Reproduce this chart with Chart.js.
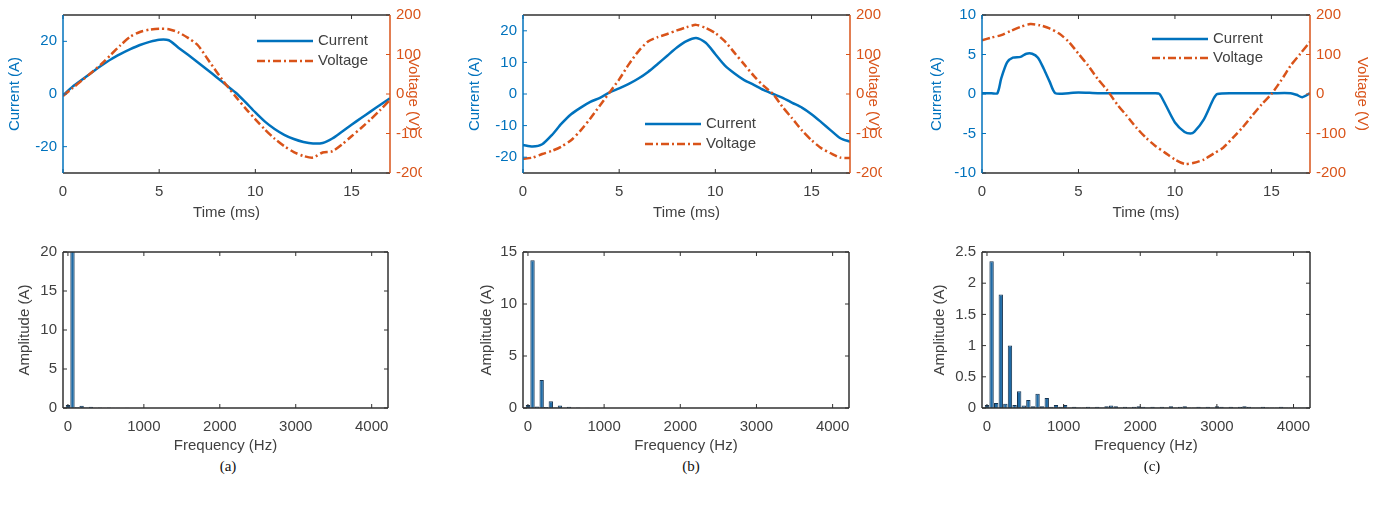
<!DOCTYPE html>
<html>
<head>
<meta charset="utf-8">
<script src="https://cdn.jsdelivr.net/npm/chart.js@4.4.1/dist/chart.umd.min.js"></script>
<style>
body { margin:0; background:#fff; width:1387px; height:506px; position:relative; overflow:hidden; }
.panel { position:absolute; }
.cap { position:absolute; font-family:"Liberation Serif","Times New Roman",serif; font-size:15px; color:#111; transform:translate(-50%,-50%); }
</style>
</head>
<body>
<div class="panel" style="left:0px;top:0px;width:460px;height:225px"><canvas id="timeA"></canvas></div>
<div class="panel" style="left:460px;top:0px;width:460px;height:225px"><canvas id="timeB"></canvas></div>
<div class="panel" style="left:919px;top:0px;width:468px;height:225px"><canvas id="timeC"></canvas></div>
<div class="panel" style="left:0px;top:230px;width:460px;height:225px"><canvas id="fftA"></canvas></div>
<div class="panel" style="left:460px;top:230px;width:460px;height:225px"><canvas id="fftB"></canvas></div>
<div class="panel" style="left:919px;top:230px;width:468px;height:225px"><canvas id="fftC"></canvas></div>
<div class="cap" style="left:228px;top:466px">(a)</div>
<div class="cap" style="left:691px;top:466px">(b)</div>
<div class="cap" style="left:1152px;top:466px">(c)</div>
<script>
// time domain (ms)
const timeMs = [0,0.5,1,1.5,2,2.5,3,3.5,4,4.5,5,5.5,6,6.5,7,7.5,8,8.5,9,9.5,10,10.5,11,11.5,12,12.5,13,13.5,14,14.5,15,15.5,16,16.5,17];

const currentA = [-0.5,2.8,5.5,8.2,10.8,13.2,15.2,17.0,18.6,19.8,20.6,20.4,17.6,14.9,12.1,9.2,6.3,3.3,0.4,-3.2,-7.0,-10.5,-13.3,-15.5,-17.1,-18.2,-18.8,-18.6,-16.9,-14.3,-11.7,-9.1,-6.6,-4.1,-1.6];
const voltageA = [-5,15,35,55,76,100,124,145,157,163,165,164,156,142,124,90,55,22,-8,-37,-64,-90,-113,-132,-147,-157,-161,-148,-145,-128,-107,-86,-64,-40,-15];

const currentB = [-16.1,-16.6,-15.9,-13.0,-9.4,-6.4,-4.3,-2.5,-1.2,0.5,1.8,3.2,4.9,7.0,9.5,12.1,14.7,16.7,17.7,16.2,12.6,9.0,6.5,4.4,2.9,1.3,0.0,-1.2,-2.8,-4.3,-6.4,-8.9,-11.5,-14.0,-15.1];
const voltageB = [-164,-161,-152,-144,-133,-117,-92,-62,-29,4,37,75,108,133,144,152,161,169,175,167,154,133,104,75,46,21,0,-33,-62,-92,-117,-137,-150,-161,-162];

const timeCurrentC = [0,0.5,0.8,1.0,1.3,1.6,2.0,2.3,2.6,2.9,3.2,3.5,3.8,4.5,5,6,7,8,9,9.2,9.5,10,10.5,10.8,11,11.5,12,12.2,13,14,15,16,16.3,16.6,17];
const currentC = [0.1,0.1,0.1,2.0,4.0,4.6,4.7,5.1,5.1,4.6,3.2,1.6,0.1,0.1,0.2,0.1,0.1,0.1,0.1,0.0,-1.3,-3.6,-4.8,-5.0,-4.8,-3.2,-0.6,0.0,0.1,0.1,0.1,0.1,-0.1,-0.4,0.1];
const voltageC = [136,143,149,160,170,177,174,166,153,132,102,72,38,9,-26,-55,-85,-111,-132,-149,-166,-177,-174,-166,-151,-136,-111,-85,-55,-26,0,34,72,102,132];

// spectrum (Hz)
const freqHz = [0,60,120,180,240,300,360,420,480,540,600,660,720,780,840,900,960,1020,1080,1140,1200,1260,1320,1380,1440,1500,1560,1620,1680,1740,1800,1860,1920,1980,2040,2100,2160,2220,2280,2340,2400,2460,2520,2580,2640,2700,2760,2820,2880,2940,3000,3060,3120,3180,3240,3300,3360,3420,3480,3540,3600,3660,3720,3780,3840,3900,3960,4020,4080,4140,4200];
const ampA = [0.4,20.5,0.1,0.3,0.05,0.15,0.03,0.08,0.02,0.05,0.02,0.03,0.01,0.02,0.01];
const ampB = [0.3,14.2,0.15,2.7,0.1,0.65,0.05,0.25,0.03,0.12,0.02,0.06,0.01,0.03,0.01];
const ampC = [0.05,2.35,0.08,1.82,0.07,1.0,0.05,0.27,0.04,0.13,0.03,0.23,0.03,0.16,0.02,0.05,0.02,0.05,0.01,0.02,
  0.01,0.01,0.02,0.01,0.02,0.01,0.03,0.04,0.03,0.01,0.02,0.01,0.02,0.03,0.02,0.01,0.02,0.01,0.02,0.01,
  0.03,0.01,0.02,0.03,0.01,0.01,0.02,0.01,0.02,0.01,0.03,0.02,0.01,0.02,0.01,0.02,0.03,0.02,0.01,0.01,
  0.02,0.01,0.01,0.01,0.02,0.01,0.01,0.01,0.01,0.01,0.01];

// tick labels
const timeTicks = [0,5,10,15];
const freqTicks = [0,1000,2000,3000,4000];
const currentTicksA = [-20,0,20];
const currentTicksB = [-20,-10,0,10,20];
const currentTicksC = [-10,-5,0,5,10];
const voltageTicks = [-200,-100,0,100,200];
const ampTicksA = [0,5,10,15,20];
const ampTicksB = [0,5,10,15];
const ampTicksC = [0,0.5,1,1.5,2,2.5];

const BLUE = '#0072BD';
const ORANGE = '#D95319';
const TEXT = '#404040';
const DARK = '#303030';
const FONT = '"Liberation Sans", Arial, Helvetica, sans-serif';

Chart.defaults.font.family = FONT;
Chart.defaults.font.size = 15;
Chart.defaults.animation = false;
Chart.defaults.devicePixelRatio = 1;

function pts(xs, ys) {
    return ys.map((y, i) => ({x: xs[i], y: y}));
}

function setTicks(list) {
    return scale => { scale.ticks = list.map(v => ({value: v})); };
}

const plain = v => String(v);

// matlab style box with inward ticks
const frame = {
    id: 'frame',
    afterDraw(chart, args, o) {
        const {ctx, chartArea: a, scales} = chart;
        const tl = 4;
        const line = (x1, y1, x2, y2, c) => {
            ctx.strokeStyle = c;
            ctx.beginPath(); ctx.moveTo(x1, y1); ctx.lineTo(x2, y2); ctx.stroke();
        };
        ctx.save();
        ctx.lineWidth = 1;
        scales.x.ticks.forEach(t => {
            const p = scales.x.getPixelForValue(t.value);
            line(p, a.bottom, p, a.bottom - tl, DARK);
            line(p, a.top, p, a.top + tl, DARK);
        });
        scales.y.ticks.forEach(t => {
            const p = scales.y.getPixelForValue(t.value);
            line(a.left, p, a.left + tl, p, o.left);
            if (!scales.y2) line(a.right, p, a.right - tl, p, DARK);
        });
        if (scales.y2) {
            scales.y2.ticks.forEach(t => {
                const p = scales.y2.getPixelForValue(t.value);
                line(a.right, p, a.right - tl, p, o.right);
            });
        }
        ctx.lineWidth = 1.5;
        line(a.left, a.top, a.right, a.top, DARK);
        line(a.left, a.bottom, a.right, a.bottom, DARK);
        line(a.left, a.top, a.left, a.bottom, o.left);
        line(a.right, a.top, a.right, a.bottom, o.right);
        ctx.restore();
    }
};

// legend drawn inside the axes, no box
const inlineLegend = {
    id: 'inlineLegend',
    afterDraw(chart, args, o) {
        if (!o.show) return;
        const {ctx, chartArea: a} = chart;
        ctx.save();
        ctx.font = '15px ' + FONT;
        ctx.textBaseline = 'middle';
        chart.data.datasets.forEach((ds, i) => {
            const x = a.left + o.x;
            const y = a.top + o.y + i * o.row;
            ctx.strokeStyle = ds.borderColor;
            ctx.lineWidth = ds.borderWidth;
            ctx.setLineDash(ds.borderDash || []);
            ctx.beginPath(); ctx.moveTo(x, y); ctx.lineTo(x + o.len, y); ctx.stroke();
            ctx.setLineDash([]);
            ctx.fillStyle = TEXT;
            ctx.fillText(ds.label, x + o.len + 5, y);
        });
        ctx.restore();
    }
};

const noGrid = {display: false, drawTicks: false};
const noBorder = {display: false};

function timeChart(id, p) {
    new Chart(document.getElementById(id), {
        type: 'line',
        data: {
            datasets: [{
                label: 'Current',
                data: pts(p.curT, p.cur),
                yAxisID: 'y',
                borderColor: BLUE,
                borderWidth: 2.5,
                pointRadius: 0,
                tension: 0.25,
                order: 1
            }, {
                label: 'Voltage',
                data: pts(timeMs, p.volt),
                yAxisID: 'y2',
                borderColor: ORANGE,
                borderWidth: 2.5,
                borderDash: [8, 3, 2, 3],
                pointRadius: 0,
                tension: 0.25,
                order: 0
            }]
        },
        options: {
            responsive: true,
            maintainAspectRatio: false,
            events: [],
            layout: {padding: {top: p.top, bottom: 2, left: 0, right: p.padRight}},
            plugins: {
                legend: {display: false},
                tooltip: {enabled: false},
                frame: {left: BLUE, right: ORANGE},
                inlineLegend: Object.assign({show: true, len: 56, row: 20}, p.legend)
            },
            scales: {
                x: {
                    type: 'linear', min: 0, max: 17, offset: false,
                    afterBuildTicks: setTicks(timeTicks),
                    afterFit: s => { s.height = 50; },
                    grid: noGrid, border: noBorder,
                    ticks: {color: TEXT, padding: 10, maxRotation: 0, autoSkip: false, callback: plain},
                    title: {display: true, text: 'Time (ms)', color: TEXT, padding: {top: 0, bottom: 1}}
                },
                y: {
                    position: 'left', min: p.curMin, max: p.curMax,
                    afterBuildTicks: setTicks(p.curTicks),
                    afterFit: s => { s.width = 63; },
                    grid: noGrid, border: noBorder,
                    ticks: {color: BLUE, padding: 6, autoSkip: false, callback: plain},
                    title: {display: true, text: 'Current (A)', color: BLUE, padding: {top: p.titlePad, bottom: 0}}
                },
                y2: {
                    position: 'right', min: -200, max: 200,
                    afterBuildTicks: setTicks(voltageTicks),
                    afterFit: s => { s.width = p.rightW; },
                    grid: noGrid, border: noBorder,
                    ticks: {color: ORANGE, padding: 6, autoSkip: false, callback: plain},
                    title: {display: true, text: 'Voltage (V)', color: ORANGE, padding: {top: 0, bottom: 0}}
                }
            }
        },
        plugins: [frame, inlineLegend]
    });
}

function fftChart(id, p) {
    new Chart(document.getElementById(id), {
        type: 'bar',
        data: {
            datasets: [{
                label: 'Amplitude',
                data: pts(freqHz, p.amp),
                backgroundColor: '#1f6aa5',
                borderColor: '#173450',
                borderWidth: 1,
                barPercentage: 0.95,
                categoryPercentage: 1
            }]
        },
        options: {
            responsive: true,
            maintainAspectRatio: false,
            events: [],
            layout: {padding: {top: 22, bottom: 0, left: 0, right: p.padRight}},
            plugins: {
                legend: {display: false},
                tooltip: {enabled: false},
                frame: {left: DARK, right: DARK}
            },
            scales: {
                x: {
                    type: 'linear', min: -65, max: 4215, offset: false,
                    afterBuildTicks: setTicks(freqTicks),
                    afterFit: s => { s.height = 47; },
                    grid: noGrid, border: noBorder,
                    ticks: {color: TEXT, padding: 10, maxRotation: 0, autoSkip: false, callback: plain},
                    title: {display: true, text: 'Frequency (Hz)', color: TEXT, padding: {top: 0, bottom: 0}}
                },
                y: {
                    position: 'left', min: 0, max: p.max,
                    afterBuildTicks: setTicks(p.ticks),
                    afterFit: s => { s.width = 63; },
                    grid: noGrid, border: noBorder,
                    ticks: {color: TEXT, padding: 6, autoSkip: false, callback: plain},
                    title: {display: true, text: 'Amplitude (A)', color: TEXT, padding: {top: p.titlePad, bottom: 0}}
                }
            }
        },
        plugins: [frame]
    });
}

timeChart('timeA', {cur: currentA, curT: timeMs, volt: voltageA, curMin: -30, curMax: 30, curTicks: currentTicksA,
    top: 13, rightW: 32, padRight: 38, titlePad: 6, legend: {x: 194, y: 26}});
timeChart('timeB', {cur: currentB, curT: timeMs, volt: voltageB, curMin: -25, curMax: 25, curTicks: currentTicksB,
    top: 13, rightW: 32, padRight: 38, titlePad: 6, legend: {x: 122, y: 109}});
timeChart('timeC', {cur: currentC, curT: timeCurrentC, volt: voltageC, curMin: -10, curMax: 10, curTicks: currentTicksC,
    top: 15, rightW: 61, padRight: 16, titlePad: 9, legend: {x: 170, y: 24, row: 19}});

fftChart('fftA', {amp: ampA, max: 20, ticks: ampTicksA, padRight: 72, titlePad: 16});
fftChart('fftB', {amp: ampB, max: 15, ticks: ampTicksB, padRight: 71, titlePad: 18});
fftChart('fftC', {amp: ampC, max: 2.5, ticks: ampTicksC, padRight: 77, titlePad: 12});
</script>
</body>
</html>
